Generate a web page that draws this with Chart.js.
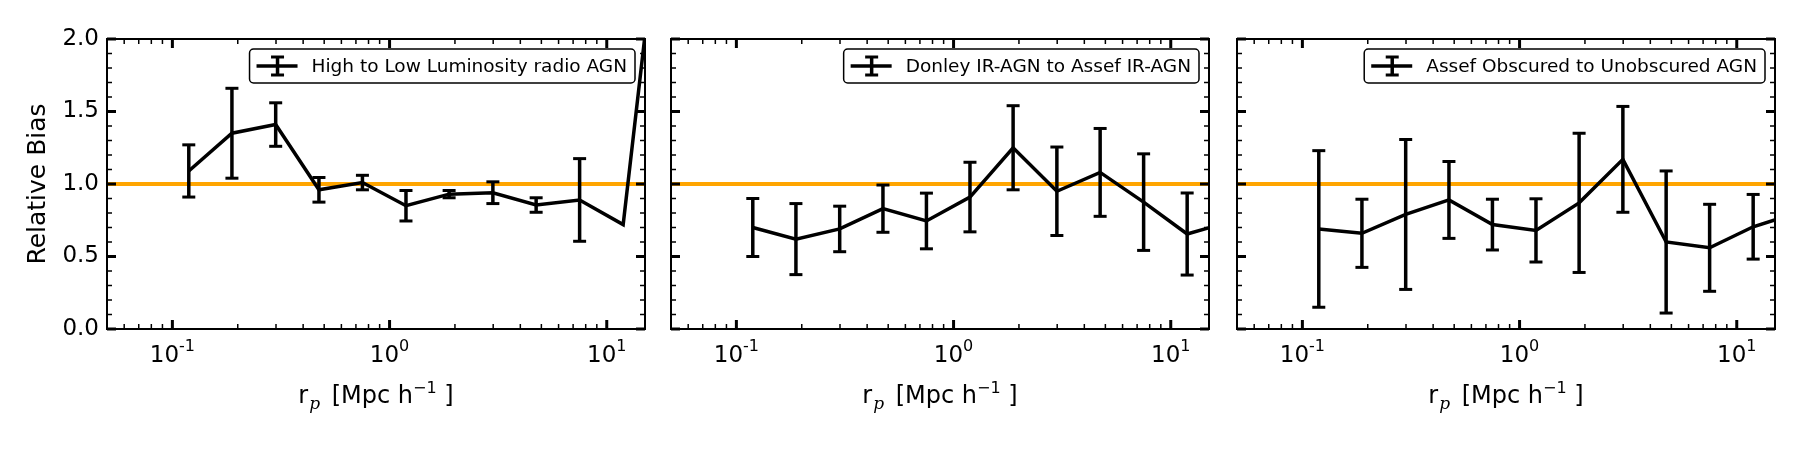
<!DOCTYPE html>
<html>
<head>
<meta charset="utf-8">
<script src="https://cdn.jsdelivr.net/npm/chart.js@4.4.1/dist/chart.umd.min.js"></script>
<style>
  html, body { margin: 0; padding: 0; background: #fff; }
  #wrap { position: relative; width: 1800px; height: 450px; }
  #wrap canvas { position: absolute; left: 0; top: 0; }
</style>
</head>
<body>
<div id="wrap">
  <canvas id="p1" width="1800" height="450"></canvas>
  <canvas id="p2" width="1800" height="450"></canvas>
  <canvas id="p3" width="1800" height="450"></canvas>
</div>
<script>
// r_p bins (Mpc/h), shared by all three panels
const xVals = [0.119, 0.188, 0.299, 0.473, 0.750, 1.19, 1.88, 2.99, 4.73, 7.50, 11.9, 18.8];
const xMin = 0.05, xMax = 15;
const xTickValues = [0.1, 1, 10];
const xTickBase = ['10', '10', '10'];
const xTickExp = ['-1', '0', '1'];
const yTickValues = [0, 0.5, 1.0, 1.5, 2.0];
const yTickLabels = ['0.0', '0.5', '1.0', '1.5', '2.0'];
const refLevel = 1.0;

const labelRadio = 'High to Low Luminosity radio AGN';
const biasRadio = [1.09, 1.35, 1.41, 0.96, 1.01, 0.85, 0.93, 0.94, 0.855, 0.89, 0.72, 3.3];
const errRadio  = [0.18, 0.31, 0.15, 0.085, 0.05, 0.105, 0.025, 0.075, 0.05, 0.285, null, null];

const labelDonley = 'Donley IR-AGN to Assef IR-AGN';
const biasDonley = [0.70, 0.62, 0.69, 0.83, 0.745, 0.91, 1.25, 0.95, 1.08, 0.875, 0.655, 0.74];
const errDonley  = [0.20, 0.245, 0.157, 0.163, 0.192, 0.24, 0.29, 0.305, 0.303, 0.333, 0.283, null];

const labelAssef = 'Assef Obscured to Unobscured AGN';
const biasAssef = [0.69, 0.66, 0.79, 0.89, 0.72, 0.68, 0.87, 1.17, 0.60, 0.56, 0.705, 0.80];
const errAssef  = [0.54, 0.235, 0.517, 0.265, 0.175, 0.218, 0.48, 0.365, 0.49, 0.30, 0.223, null];

const FONT = 'DejaVu Sans';
Chart.defaults.font.family = FONT;
Chart.defaults.color = '#000';

function line(ctx, x1, y1, x2, y2, w) {
  ctx.lineWidth = w;
  ctx.beginPath();
  ctx.moveTo(x1, y1);
  ctx.lineTo(x2, y2);
  ctx.stroke();
}

// draws a run of text pieces (different fonts / offsets) centred on cx
function drawRuns(ctx, parts, cx, base) {
  let total = 0;
  parts.forEach(p => {
    ctx.font = p.f;
    p.w = ctx.measureText(p.t).width + (p.gap || 0);
    total += p.w;
  });
  let x = cx - total / 2;
  ctx.textBaseline = 'alphabetic';
  ctx.textAlign = 'left';
  parts.forEach(p => {
    ctx.font = p.f;
    ctx.fillText(p.t, x, base + p.dy);
    x += p.w;
  });
}

// error bars, inward ticks, box, legend and x labels (matplotlib look)
const mplStyle = {
  id: 'mplStyle',
  afterDatasetsDraw(chart) {
    const { ctx, chartArea: a, scales: { x, y } } = chart;
    const ds = chart.data.datasets[0];
    ctx.save();
    ctx.beginPath();
    ctx.rect(a.left, a.top, a.width, a.height);
    ctx.clip();
    ctx.strokeStyle = '#000';
    ds.errors.forEach((e, i) => {
      if (e == null) return;
      const px = x.getPixelForValue(xVals[i]);
      const yt = y.getPixelForValue(ds.data[i].y + e);
      const yb = y.getPixelForValue(ds.data[i].y - e);
      line(ctx, px, yt, px, yb, 3.5);
      line(ctx, px - 6.5, yt, px + 6.5, yt, 3);
      line(ctx, px - 6.5, yb, px + 6.5, yb, 3);
    });
    ctx.restore();
  },
  afterDraw(chart) {
    const { ctx, chartArea: a, scales: { x, y } } = chart;
    ctx.save();
    ctx.strokeStyle = '#000';
    ctx.fillStyle = '#000';
    ctx.lineCap = 'butt';

    // x ticks, top and bottom
    for (let e = -2; e <= 1; e++) {
      for (let m = 1; m <= 9; m++) {
        const v = m * Math.pow(10, e);
        if (v < xMin || v > xMax) continue;
        const px = x.getPixelForValue(v);
        const major = m === 1;
        const len = major ? 9 : 5, w = major ? 3 : 1.5;
        line(ctx, px, a.bottom, px, a.bottom - len, w);
        line(ctx, px, a.top, px, a.top + len, w);
      }
    }
    // y ticks, left and right
    for (let k = 0; k <= 20; k++) {
      const v = k / 10;
      const py = y.getPixelForValue(v);
      const major = k % 5 === 0;
      const len = major ? 9 : 5, w = major ? 3 : 1.5;
      line(ctx, a.left, py, a.left + len, py, w);
      line(ctx, a.right, py, a.right - len, py, w);
    }
    // frame
    ctx.lineWidth = 2;
    ctx.strokeRect(a.left, a.top, a.width, a.height);

    // x tick labels 10^n
    xTickValues.forEach((v, i) => {
      drawRuns(ctx, [
        { t: xTickBase[i], f: '23px ' + FONT, dy: 0 },
        { t: xTickExp[i], f: '16px ' + FONT, dy: -11 }
      ], x.getPixelForValue(v), 362);
    });

    // legend
    const label = chart.data.datasets[0].label;
    ctx.font = '18.5px ' + FONT;
    const tw = ctx.measureText(label).width;
    const bw = 62 + tw + 8, bh = 34;
    const bx = a.right - 10 - bw, by = a.top + 10;
    ctx.fillStyle = '#fff';
    ctx.beginPath();
    ctx.roundRect(bx, by, bw, bh, 4);
    ctx.fill();
    ctx.lineWidth = 1.5;
    ctx.stroke();
    const hy = by + bh / 2, hx = bx + 28;
    line(ctx, bx + 7, hy, bx + 48, hy, 3.5);
    line(ctx, hx, hy - 9, hx, hy + 9, 3.5);
    line(ctx, hx - 6.5, hy - 9, hx + 6.5, hy - 9, 3);
    line(ctx, hx - 6.5, hy + 9, hx + 6.5, hy + 9, 3);
    ctx.fillStyle = '#000';
    ctx.textBaseline = 'middle';
    ctx.textAlign = 'left';
    ctx.fillText(label, bx + 62, hy + 1);

    // x axis title: r_p [Mpc h^-1]
    drawRuns(ctx, [
      { t: 'r', f: '24px ' + FONT, dy: 0, gap: 1 },
      { t: 'p', f: 'italic 17px "DejaVu Serif"', dy: 6, gap: 4 },
      { t: ' [Mpc h', f: '24px ' + FONT, dy: 0 },
      { t: '−1', f: '16px ' + FONT, dy: -10 },
      { t: ' ]', f: '24px ' + FONT, dy: 0 }
    ], (a.left + a.right) / 2, 403);
    ctx.restore();
  }
};

function makePanel(id, left, right, label, bias, err, showY) {
  return new Chart(document.getElementById(id), {
    type: 'line',
    data: {
      datasets: [
        {
          label: label,
          data: xVals.map((v, i) => ({ x: v, y: bias[i] })),
          errors: err,
          borderColor: '#000',
          borderWidth: 3.5,
          pointRadius: 0,
          tension: 0,
          clip: 0
        },
        {
          label: 'unity',
          data: [{ x: xMin, y: refLevel }, { x: xMax, y: refLevel }],
          borderColor: '#ffa500',
          borderWidth: 4,
          pointRadius: 0,
          clip: 0
        }
      ]
    },
    options: {
      responsive: false,
      animation: false,
      events: [],
      layout: { padding: { left: showY ? 0 : left, right: 1800 - right, top: 39, bottom: 0 } },
      plugins: { legend: { display: false }, tooltip: { enabled: false } },
      scales: {
        x: {
          type: 'logarithmic',
          min: xMin,
          max: xMax,
          grid: { display: false, drawTicks: false },
          border: { display: false },
          afterBuildTicks: s => { s.ticks = xTickValues.map(v => ({ value: v })); },
          afterFit: s => { s.height = 121; },
          ticks: { display: false }
        },
        y: {
          min: 0,
          max: 2,
          grid: { display: false, drawTicks: false },
          border: { display: false },
          afterBuildTicks: s => { s.ticks = yTickValues.map(v => ({ value: v })); },
          afterFit: s => { s.width = showY ? left : 0; },
          ticks: {
            display: showY,
            font: { size: 23 },
            color: '#000',
            padding: 8,
            callback: (v, i) => yTickLabels[i]
          },
          title: {
            display: showY,
            text: 'Relative Bias',
            font: { size: 25 },
            color: '#000',
            padding: { top: 23, bottom: 0 }
          }
        }
      }
    },
    plugins: [mplStyle]
  });
}

makePanel('p1', 107, 645, labelRadio, biasRadio, errRadio, true);
makePanel('p2', 671, 1209, labelDonley, biasDonley, errDonley, false);
makePanel('p3', 1237, 1775, labelAssef, biasAssef, errAssef, false);
</script>
</body>
</html>
